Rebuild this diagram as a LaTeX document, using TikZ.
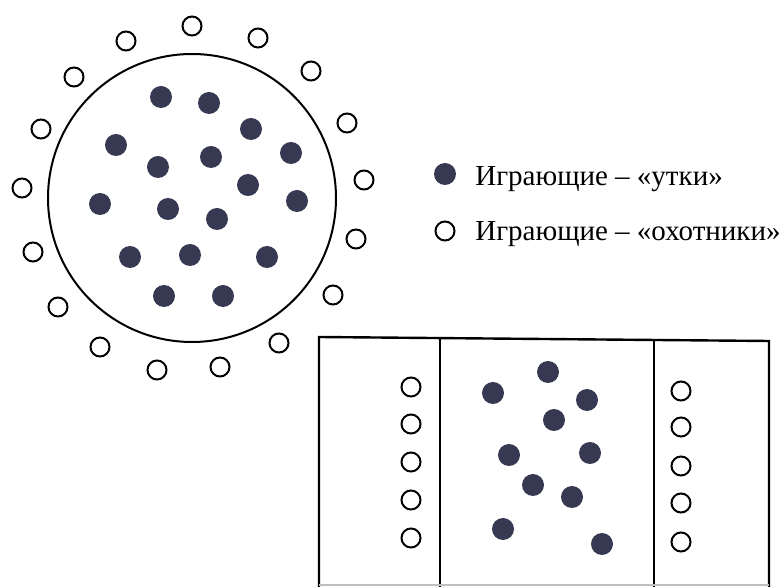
\documentclass[tikz,border=0pt]{standalone}
\usepackage{fontspec}
\setmainfont{Liberation Serif}
\definecolor{duckc}{RGB}{55,57,82}
\begin{document}
\begin{tikzpicture}[x=0.5pt,y=-0.5pt,
  duck/.style={circle,fill=duckc,minimum size=11pt,inner sep=0pt},
  hunter/.style={circle,draw=black,line width=1pt,minimum size=9.5pt,inner sep=0pt},
  field/.style={line width=1.2pt},
  legendtext/.style={anchor=base west,inner sep=0pt,font=\fontsize{14.5}{17}\selectfont}]
\useasboundingbox (0,0) rectangle (783,587);
% big circle
\draw[line width=1pt] (192,198) circle[radius=72pt];
% ducks inside the circle
\foreach \x/\y [count=\i] in {161/97,209/103,251/129,116/145,211/157,158/167,291/153,248/185,100/204,168/209,297/201,217/219,130/257,190/255,267/257,164/296,223/296}
  \node[duck] (d\i) at (\x,\y) {};
% hunters around the circle
\foreach \x/\y [count=\i] in {192/26,126/41,258/38,74/77,311/71,41/129,347/123,22/188,364/180,33/252,356/239,58/307,333/295,100/347,279/343,157/370,220/367}
  \node[hunter] (h\i) at (\x,\y) {};
% legend
\node[duck] (ld) at (445,174) {};
\node[hunter] (lh) at (445,231) {};
\node[legendtext] (lt1) at (475,186) {Играющие – «утки»};
\node[legendtext] (lt2) at (475,241) {Играющие – «охотники»};
% rectangle field
\draw[field] (319,587) -- (319,337) -- (769,341) -- (769,587);
\draw[field] (440,338) -- (440,587);
\draw[field] (654,340) -- (654,587);
\draw[line width=0.6pt,black!25] (319,585) -- (769,585);
% hunters in the side zones
\foreach \y [count=\i] in {387,424,462,500,538}
  \node[hunter] (lz\i) at (411,\y) {};
\foreach \y [count=\i] in {391,427,466,503,542}
  \node[hunter] (rz\i) at (681,\y) {};
% ducks in the middle zone
\foreach \x/\y [count=\i] in {548/372,493/393,587/400,554/420,509/455,590/453,533/485,572/497,503/529,602/544}
  \node[duck] (m\i) at (\x,\y) {};
\end{tikzpicture}
\end{document}
